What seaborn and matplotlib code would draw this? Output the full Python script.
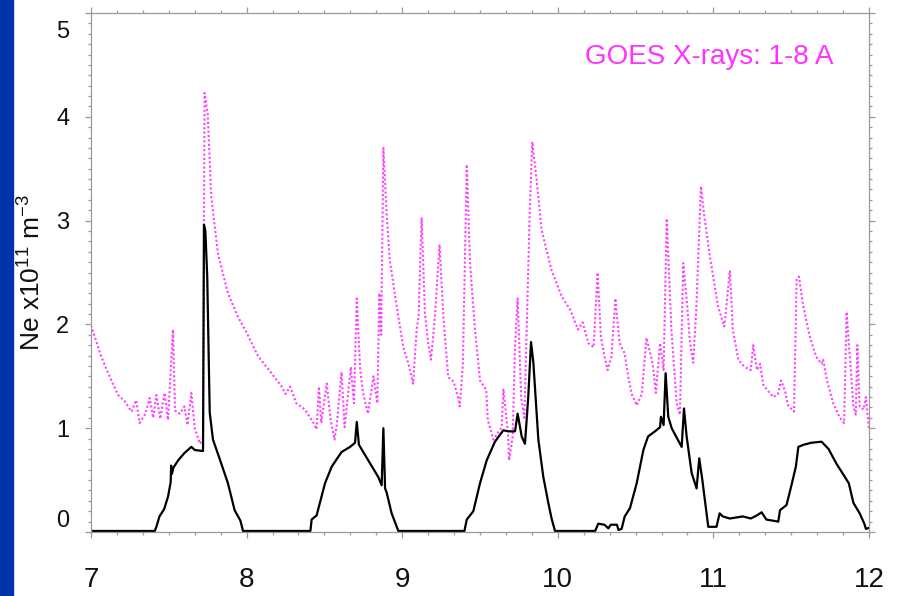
import numpy as np
import pandas as pd
import matplotlib
matplotlib.use("Agg")
import matplotlib.pyplot as plt
from matplotlib.patches import Rectangle
from matplotlib.ticker import MultipleLocator
from matplotlib.transforms import ScaledTranslation
import seaborn as sns

# ---- Data ----
ne_day = [7.0, 7.2, 7.41, 7.42, 7.44, 7.47, 7.495, 7.512, 7.515, 7.52, 7.53, 7.56, 7.60, 7.645, 7.667,
          7.72, 7.726, 7.735, 7.747, 7.763, 7.784, 7.837, 7.88, 7.923, 7.96, 7.977, 8.2, 8.41, 8.418,
          8.45, 8.504, 8.547, 8.61, 8.665, 8.697, 8.708, 8.722, 8.782, 8.846, 8.868, 8.879, 8.89, 8.90,
          8.932, 8.965, 8.975, 9.2, 9.40, 9.415, 9.457, 9.50, 9.543, 9.596, 9.65, 9.682, 9.725, 9.742,
          9.768, 9.789, 9.81, 9.828, 9.843, 9.875, 9.907, 9.939, 9.96, 9.982, 10.1, 10.24, 10.26, 10.30,
          10.325, 10.34, 10.38, 10.39, 10.41, 10.43, 10.464, 10.507, 10.55, 10.58, 10.625, 10.657, 10.663,
          10.68, 10.693, 10.71, 10.732, 10.796, 10.811, 10.828, 10.86, 10.892, 10.909, 10.929, 10.967,
          11.02, 11.04, 11.06, 11.105, 11.19, 11.24, 11.28, 11.31, 11.34, 11.417, 11.428, 11.47, 11.50,
          11.53, 11.546, 11.578, 11.63, 11.695, 11.74, 11.79, 11.845, 11.87, 11.90, 11.94, 11.97, 11.98,
          12.0]
ne_val = [0.01, 0.01, 0.01, 0.05, 0.15, 0.22, 0.34, 0.48, 0.64, 0.56, 0.62, 0.69, 0.76, 0.82, 0.79,
          0.78, 2.96, 2.90, 2.46, 1.15, 0.89, 0.66, 0.47, 0.21, 0.11, 0.01, 0.01, 0.01, 0.12,
          0.16, 0.47, 0.63, 0.77, 0.82, 0.86, 1.06, 0.84, 0.69, 0.53, 0.45, 1.00, 0.42, 0.38,
          0.18, 0.05, 0.01, 0.01, 0.01, 0.12, 0.20, 0.47, 0.69, 0.87, 0.98, 0.97, 0.97, 1.14,
          0.92, 0.85, 1.30, 1.83, 1.63, 0.89, 0.53, 0.28, 0.13, 0.01, 0.01, 0.01, 0.08, 0.07,
          0.035, 0.07, 0.07, 0.02, 0.03, 0.15, 0.23, 0.47, 0.79, 0.92, 0.97, 1.01, 1.11,
          1.03, 1.53, 1.11, 1.00, 0.82, 1.19, 0.92, 0.57, 0.42, 0.71, 0.50, 0.05,
          0.05, 0.18, 0.15, 0.13, 0.15, 0.13, 0.16, 0.19, 0.12, 0.10, 0.21, 0.26, 0.44,
          0.63, 0.82, 0.84, 0.86, 0.87, 0.80, 0.66, 0.53, 0.47, 0.28, 0.18, 0.08, 0.03,
          0.04]

goes_day = [7.0, 7.066, 7.11, 7.174, 7.217, 7.26, 7.29, 7.313, 7.35, 7.377, 7.40, 7.42, 7.445, 7.473,
            7.495, 7.527, 7.54, 7.57, 7.60, 7.62, 7.645, 7.667, 7.70, 7.72, 7.73, 7.75, 7.773, 7.816,
            7.88, 7.945, 7.99, 8.075, 8.16, 8.226, 8.25, 8.28, 8.32, 8.375, 8.43, 8.45, 8.465, 8.48,
            8.515, 8.54, 8.565, 8.58, 8.61, 8.63, 8.67, 8.69, 8.708, 8.73, 8.75, 8.78, 8.815, 8.84,
            8.853, 8.865, 8.879, 8.90, 8.92, 8.965, 9.007, 9.04, 9.07, 9.093, 9.105, 9.125, 9.146,
            9.167, 9.185, 9.21, 9.24, 9.265, 9.296, 9.33, 9.36, 9.37, 9.39, 9.415, 9.436, 9.468, 9.50,
            9.54, 9.55, 9.586, 9.64, 9.65, 9.68, 9.687, 9.71, 9.725, 9.742, 9.765, 9.785, 9.80, 9.82,
            9.836, 9.864, 9.896, 9.96, 10.025, 10.08, 10.13, 10.16, 10.196, 10.23, 10.256, 10.277,
            10.30, 10.32, 10.345, 10.37, 10.397, 10.43, 10.453, 10.475, 10.507, 10.54, 10.57, 10.61,
            10.63, 10.657, 10.68, 10.70, 10.73, 10.764, 10.785, 10.806, 10.83, 10.85, 10.87, 10.89,
            10.92, 10.94, 10.978, 11.03, 11.07, 11.106, 11.125, 11.16, 11.20, 11.24, 11.256, 11.28,
            11.30, 11.32, 11.35, 11.385, 11.415, 11.435, 11.46, 11.48, 11.518, 11.535, 11.55, 11.578,
            11.62, 11.66, 11.695, 11.705, 11.73, 11.77, 11.813, 11.84, 11.856, 11.88, 11.90, 11.915,
            11.925, 11.94, 11.965, 11.98, 12.0]
goes_val = [1.99, 1.69, 1.53, 1.32, 1.26, 1.16, 1.27, 1.05, 1.14, 1.29, 1.10, 1.32, 1.09, 1.34,
            1.08, 1.95, 1.17, 1.14, 1.21, 1.03, 1.34, 1.00, 0.85, 0.90, 4.23, 4.03, 3.23, 2.68,
            2.30, 2.07, 1.95, 1.69, 1.53, 1.40, 1.33, 1.40, 1.24, 1.18, 1.05, 0.99, 1.40, 1.05,
            1.43, 1.08, 0.89, 1.04, 1.54, 1.01, 1.59, 1.24, 2.25, 1.56, 1.33, 1.14, 1.50, 1.24,
            2.30, 1.90, 3.70, 3.07, 2.62, 2.17, 1.78, 1.62, 1.43, 1.95, 2.07, 3.03, 2.11,
            1.82, 1.66, 2.07, 2.77, 2.07, 1.49, 1.45, 1.29, 1.21, 1.62, 3.54, 2.59, 1.95, 1.46,
            1.37, 1.08, 0.89, 1.01, 1.38, 0.95, 0.69, 0.92, 1.79, 2.25, 1.29, 1.10, 1.95, 3.10,
            3.76, 3.39, 2.91, 2.52, 2.27, 2.14, 1.95, 2.02, 1.82, 1.78, 2.50, 1.88,
            1.69, 1.56, 1.69, 2.25, 1.82, 1.72, 1.49, 1.33, 1.22, 1.33, 1.87, 1.62,
            1.34, 1.82, 1.56, 3.02, 1.95, 1.24, 1.13, 2.59, 2.21, 1.82, 1.63, 2.14,
            3.33, 3.06, 2.65, 2.17, 1.98, 2.52, 1.95, 1.66, 1.59, 1.56, 1.80, 1.56,
            1.62, 1.42, 1.36, 1.30, 1.33, 1.46, 1.36, 1.22, 1.16, 2.43, 2.46, 2.17,
            1.88, 1.69, 1.62, 1.66, 1.46, 1.24, 1.10, 1.05, 2.12, 1.62, 1.21, 1.13,
            1.80, 1.21, 1.18, 1.30, 0.98]

x_ticks = [7, 8, 9, 10, 11, 12]
y_ticks = [0, 1, 2, 3, 4, 5]
ylabel_text = r"Ne x10$^{11}$ m$^{-3}$"
goes_label = "GOES X-rays: 1-8 A"

ne_df = pd.DataFrame({"day": ne_day, "ne": ne_val})
goes_df = pd.DataFrame({"day": goes_day, "goes": goes_val})

# ---- Style ----
sns.set_style("white")
plt.rcParams["font.family"] = ["Liberation Sans", "DejaVu Sans"]
plt.rcParams["mathtext.fontset"] = "custom"
plt.rcParams["mathtext.rm"] = "Liberation Sans"
plt.rcParams["mathtext.it"] = "Liberation Sans"

fig = plt.figure(figsize=(9.02, 5.96), dpi=100)
fig.patch.set_facecolor("white")
fig.patches.append(Rectangle((0, 0), 13 / 902, 1, transform=fig.transFigure,
                             color="#0033A8", zorder=0))

ax = fig.add_axes([91 / 902, 1 - 532 / 596, 778 / 902, 519 / 596])

sns.lineplot(data=goes_df, x="day", y="goes", ax=ax, color="#FF40FF",
             linewidth=1.5, linestyle=(0, (1, 1.1)), estimator=None, sort=False)
sns.lineplot(data=ne_df, x="day", y="ne", ax=ax, color="black",
             linewidth=1.6, estimator=None, sort=False)

ax.set_xlim(7, 12)
ax.set_ylim(0, 5)
ax.set_xticks(x_ticks)
ax.set_xticklabels([str(v) for v in x_ticks])
ax.set_yticks(y_ticks)
ax.set_yticklabels([str(v) for v in y_ticks])
ax.xaxis.set_minor_locator(MultipleLocator(1 / 6))
ax.yaxis.set_minor_locator(MultipleLocator(0.1))

spine_col = "#9a9a9a"
for s in ax.spines.values():
    s.set_color(spine_col)
    s.set_linewidth(0.9)

ax.tick_params(axis="both", which="both", direction="out", colors=spine_col,
               top=True, right=True, bottom=True, left=True, width=0.9)
ax.tick_params(axis="both", which="major", length=4.5)
ax.tick_params(axis="both", which="minor", length=2.3)
ax.tick_params(axis="x", which="major", labelsize=20, pad=21, labelcolor="#111111")
ax.tick_params(axis="y", which="major", labelsize=17, pad=11, labelcolor="#111111")

ylabs = ax.get_yticklabels()
ylabs[0].set_va("bottom")
ylabs[-1].set_va("top")
ylabs[-1].set_transform(ylabs[-1].get_transform() +
                        ScaledTranslation(0, -8 / 100, fig.dpi_scale_trans))

ax.set_xlabel("")
ax.set_ylabel(ylabel_text, fontsize=19, color="#111111")
ax.yaxis.set_label_coords(-0.058, 0.5)

ax.text(0.635, 0.915, goes_label, transform=ax.transAxes, color="#FF33FF",
        fontsize=20, ha="left", va="center")

fig.savefig("out.png", dpi=100)
